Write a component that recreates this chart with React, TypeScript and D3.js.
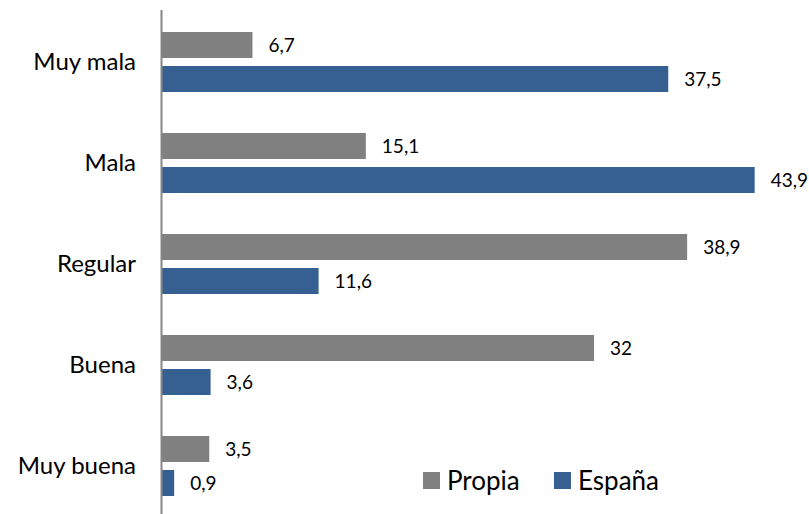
import React, { useEffect, useRef } from 'react';
import * as d3 from 'd3';

const categories = ['Muy mala', 'Mala', 'Regular', 'Buena', 'Muy buena'];
const seriesNames = ['Propia', 'España'];
const propia = [6.7, 15.1, 38.9, 32, 3.5];
const espana = [37.5, 43.9, 11.6, 3.6, 0.9];
const colors = ['#808080', '#376092'];

const fmt = (v: number) => String(v).replace('.', ',');

const App = () => {
  const ref = useRef<SVGSVGElement>(null);

  useEffect(() => {
    const svg = d3.select(ref.current);
    svg.selectAll('*').remove();

    const font = 'Lato, sans-serif';
    const x = d3.scaleLinear().domain([0, 50]).range([162, 837]);
    const y0 = d3.scaleBand().domain(categories).range([12, 517]);
    const y1 = d3.scaleBand().domain(seriesNames).range([0, 60]).paddingInner(0.235);

    const rows = categories.map((c, i) => ({ cat: c, values: [propia[i], espana[i]] }));

    const groups = svg.selectAll('g.cat')
      .data(rows)
      .enter().append('g')
      .attr('class', 'cat')
      .attr('transform', d => `translate(0,${y0(d.cat)! + 20})`);

    seriesNames.forEach((s, si) => {
      groups.append('rect')
        .attr('x', x(0))
        .attr('y', y1(s)!)
        .attr('width', d => x(d.values[si]) - x(0))
        .attr('height', y1.bandwidth())
        .attr('fill', colors[si]);

      groups.append('text')
        .attr('x', d => x(d.values[si]) + 16)
        .attr('y', y1(s)! + y1.bandwidth() / 2)
        .attr('dy', '0.35em')
        .attr('font-family', font)
        .attr('font-size', 19)
        .attr('fill', '#000')
        .text(d => fmt(d.values[si]));
    });

    // category labels
    svg.selectAll('text.cat-label')
      .data(categories)
      .enter().append('text')
      .attr('class', 'cat-label')
      .attr('x', 136)
      .attr('y', d => y0(d)! + y0.bandwidth() / 2 - 1)
      .attr('dy', '0.35em')
      .attr('text-anchor', 'end')
      .attr('font-family', font)
      .attr('font-size', 24)
      .attr('fill', '#000')
      .text(d => d);

    // axis line
    svg.append('line')
      .attr('x1', x(0) - 0.5)
      .attr('x2', x(0) - 0.5)
      .attr('y1', 10)
      .attr('y2', 514)
      .attr('stroke', '#868686')
      .attr('stroke-width', 2);

    // legend
    const legendX = [423, 554];
    seriesNames.forEach((s, i) => {
      svg.append('rect')
        .attr('x', legendX[i])
        .attr('y', 472)
        .attr('width', 17)
        .attr('height', 17)
        .attr('fill', colors[i]);
      svg.append('text')
        .attr('x', legendX[i] + 24)
        .attr('y', 481)
        .attr('dy', '0.35em')
        .attr('font-family', font)
        .attr('font-size', 26)
        .attr('fill', '#000')
        .text(s);
    });
  }, []);

  return (
    <svg ref={ref} width={809} height={514}
      style={{ position: 'absolute', left: 0, top: 0, background: '#fff' }} />
  );
};

export default App;
